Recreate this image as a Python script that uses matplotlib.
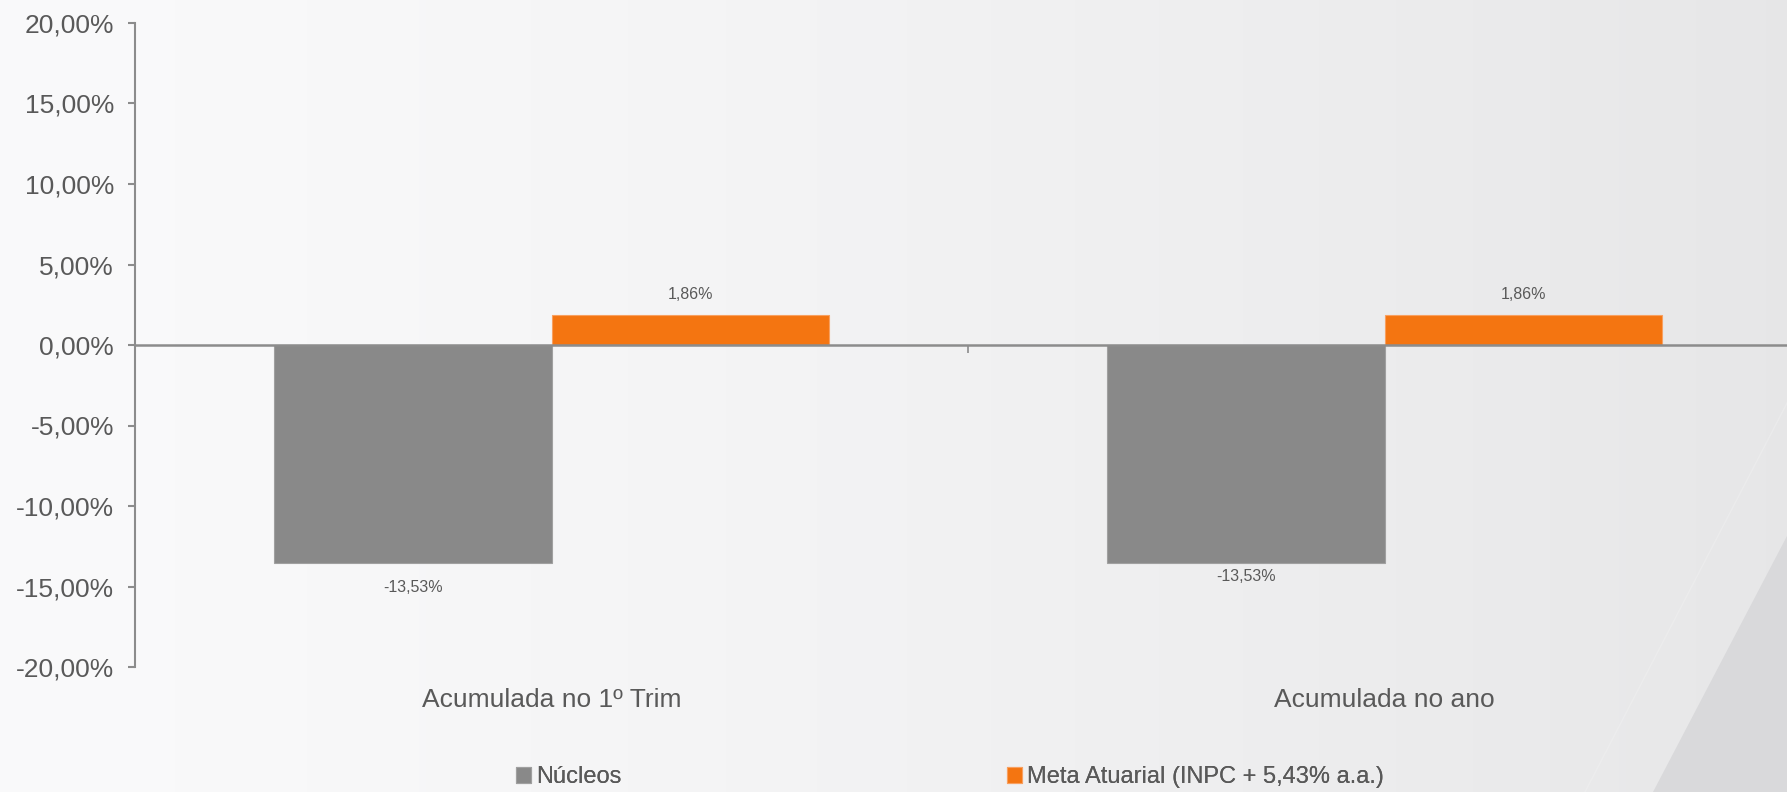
import numpy as np
import matplotlib.pyplot as plt
from matplotlib.patches import Polygon
from matplotlib.ticker import FuncFormatter

# Data
categories = ["Acumulada no 1º Trim", "Acumulada no ano"]
nucleos = [-13.53, -13.53]
meta_atuarial = [1.86, 1.86]
series_names = ["Núcleos", "Meta Atuarial (INPC + 5,43% a.a.)"]
y_ticks = [-20, -15, -10, -5, 0, 5, 10, 15, 20]

grey = "#898989"
orange = "#f47511"
text_color = "#595959"
axis_color = "#8c8c8c"

plt.rcParams['font.family'] = ['Liberation Sans', 'DejaVu Sans']

W, H = 1787, 792
fig = plt.figure(figsize=(W / 100, H / 100), dpi=100)

# Background gradient with the darker diagonal shape on the right
bg = fig.add_axes([0, 0, 1, 1], zorder=-10)
grad = np.linspace(0, 1, 256)
shade = 0.98 - 0.075 * grad ** 1.3
img = np.dstack([shade, shade, shade + 0.004])
img = np.repeat(img, 2, axis=0)
bg.imshow(img, aspect='auto', extent=[0, 1, 0, 1], origin='lower')
bg.add_patch(Polygon([[1653 / W, 0], [1, 0], [1, 1 - 536 / H]], closed=True,
                     facecolor="#d9d9db", edgecolor="none"))
bg.plot([1585 / W, 1], [0, 1 - 403 / H], color="#f4f4f4", lw=1, alpha=0.35)
bg.set_xlim(0, 1)
bg.set_ylim(0, 1)
bg.axis('off')

# Plot area: y axis at x=135px, 20% at 23px, -20% at 667px
left = 135 / W
right = 1801 / W
top = 1 - 23 / H
bottom = 1 - 667 / H
ax = fig.add_axes([left, bottom, right - left, top - bottom])
ax.patch.set_alpha(0)

x = np.arange(len(categories))
bar_w = 1 / 3
bars_n = ax.bar(x - bar_w / 2, nucleos, bar_w, color=grey, label=series_names[0],
                edgecolor="#a0a0a0", linewidth=0.8, zorder=2)
bars_m = ax.bar(x + bar_w / 2, meta_atuarial, bar_w, color=orange, label=series_names[1],
                edgecolor="#f8a060", linewidth=0.8, zorder=2)

ax.set_xlim(-0.5, len(categories) - 0.5)
ax.set_ylim(-20, 20)
ax.set_yticks(y_ticks)
ax.yaxis.set_major_formatter(FuncFormatter(lambda v, p: f"{v:.2f}%".replace(".", ",")))
ax.tick_params(axis='y', colors=axis_color, labelcolor=text_color, labelsize=19,
               length=5, width=1.5, pad=10)

# horizontal axis crosses at zero, tick marks between categories
for s in ["top", "right"]:
    ax.spines[s].set_visible(False)
ax.spines["left"].set_color(axis_color)
ax.spines["left"].set_linewidth(1.5)
ax.spines["bottom"].set_position(("data", 0))
ax.spines["bottom"].set_color(axis_color)
ax.spines["bottom"].set_linewidth(1.8)
ax.spines["bottom"].set_zorder(3)
ax.set_xticks([0.5])
ax.set_xticklabels([""])
ax.tick_params(axis='x', colors=axis_color, length=6, width=1.2)

for i, cat in enumerate(categories):
    ax.annotate(cat, xy=(x[i], -20), xytext=(0, -24), textcoords="offset points",
                ha="center", va="center", fontsize=19, color=text_color)

# data labels
neg_offsets = [-18, -10]
for i in range(len(categories)):
    ax.annotate(f"{nucleos[i]:.2f}%".replace(".", ","), xy=(x[i] - bar_w / 2, nucleos[i]),
                xytext=(0, neg_offsets[i]), textcoords="offset points",
                ha="center", va="center", fontsize=11.5, color=text_color)
    ax.annotate(f"{meta_atuarial[i]:.2f}%".replace(".", ","), xy=(x[i] + bar_w / 2, meta_atuarial[i]),
                xytext=(0, 15), textcoords="offset points",
                ha="center", va="center", fontsize=11.5, color=text_color)

# legend entries placed one by one along the bottom
leg_x = [516 / W, 1007 / W]
for handle, name, lx in zip([bars_n, bars_m], series_names, leg_x):
    leg = fig.legend(handles=[handle], labels=[name], loc="center left",
                     bbox_to_anchor=(lx, 1 - 777 / H), frameon=False, fontsize=17,
                     labelcolor=text_color, handlelength=0.65, handleheight=0.65,
                     handletextpad=0.2, borderpad=0, borderaxespad=0)
    fig.add_artist(leg)

fig.savefig("out.png", dpi=100)
